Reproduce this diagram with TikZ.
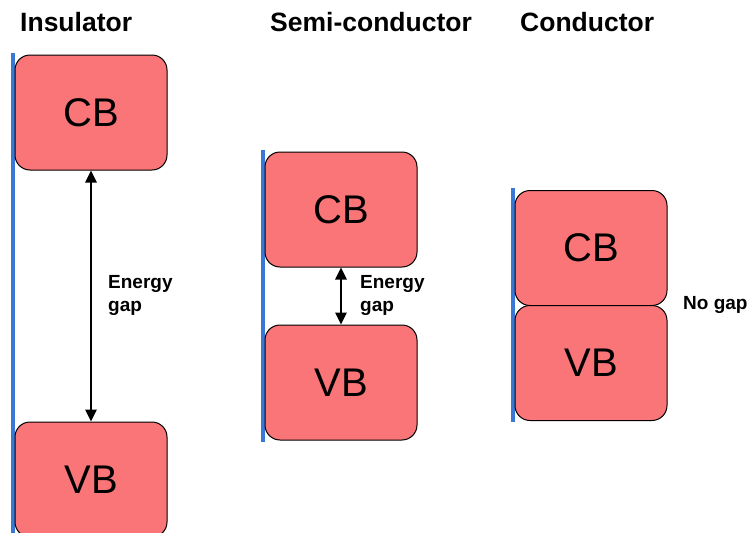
\documentclass[tikz,border=0pt]{standalone}
\usepackage{fontspec}
\setmainfont{Liberation Sans}
\usetikzlibrary{arrows.meta}
\definecolor{bandfill}{RGB}{249,117,119}
\definecolor{axisblue}{RGB}{58,120,214}
\tikzset{
  band/.style={draw=black, line width=1pt, fill=bandfill, rounded corners=15pt,
    minimum width=152pt, minimum height=115pt, inner sep=0pt,
    font=\fontsize{40}{44}\selectfont},
  axisline/.style={draw=axisblue, line width=3.5pt},
  gaparrow/.style={draw=black, line width=2.6pt, {Triangle[length=12pt,width=11pt]}-{Triangle[length=12pt,width=11pt]}},
  title/.style={anchor=base west, inner sep=0pt, font=\bfseries\fontsize{26.5}{30}\selectfont},
  gaplabel/.style={anchor=west, inner sep=0pt, align=left, font=\bfseries\fontsize{19}{23}\selectfont}
}
\begin{document}
\begin{tikzpicture}[x=1pt,y=-1pt]
\clip (0,0) rectangle (748,533);
\fill[white] (0,0) rectangle (748,533);
% titles
\node[title] (t1) at (20,31) {Insulator};
\node[title] (t2) at (270,31) {Semi-conductor};
\node[title] (t3) at (520,31) {Conductor};
% axis lines
\coordinate (a1t) at (13,53); \coordinate (a1b) at (13,540);
\coordinate (a2t) at (263,150); \coordinate (a2b) at (263,442);
\coordinate (a3t) at (513,188); \coordinate (a3b) at (513,422);
\draw[axisline] (a1t) -- (a1b);
\draw[axisline] (a2t) -- (a2b);
\draw[axisline] (a3t) -- (a3b);
% insulator
\node[band] (icb) at (91,112.5) {CB};
\node[band] (ivb) at (91,479.5) {VB};
\draw[gaparrow] (icb.south) -- (ivb.north);
\node[gaplabel] (igap) at (108,295) {Energy\\gap};
% semiconductor
\node[band] (scb) at (341,209.5) {CB};
\node[band] (svb) at (341,382.5) {VB};
\draw[gaparrow] (scb.south) -- (svb.north);
\node[gaplabel] (sgap) at (360,295) {Energy\\gap};
% conductor
\node[band] (ccb) at (591,248) {CB};
\node[band] (cvb) at (591,363) {VB};
\node[gaplabel] (cgap) at (683,305) {No gap};
\end{tikzpicture}
\end{document}
